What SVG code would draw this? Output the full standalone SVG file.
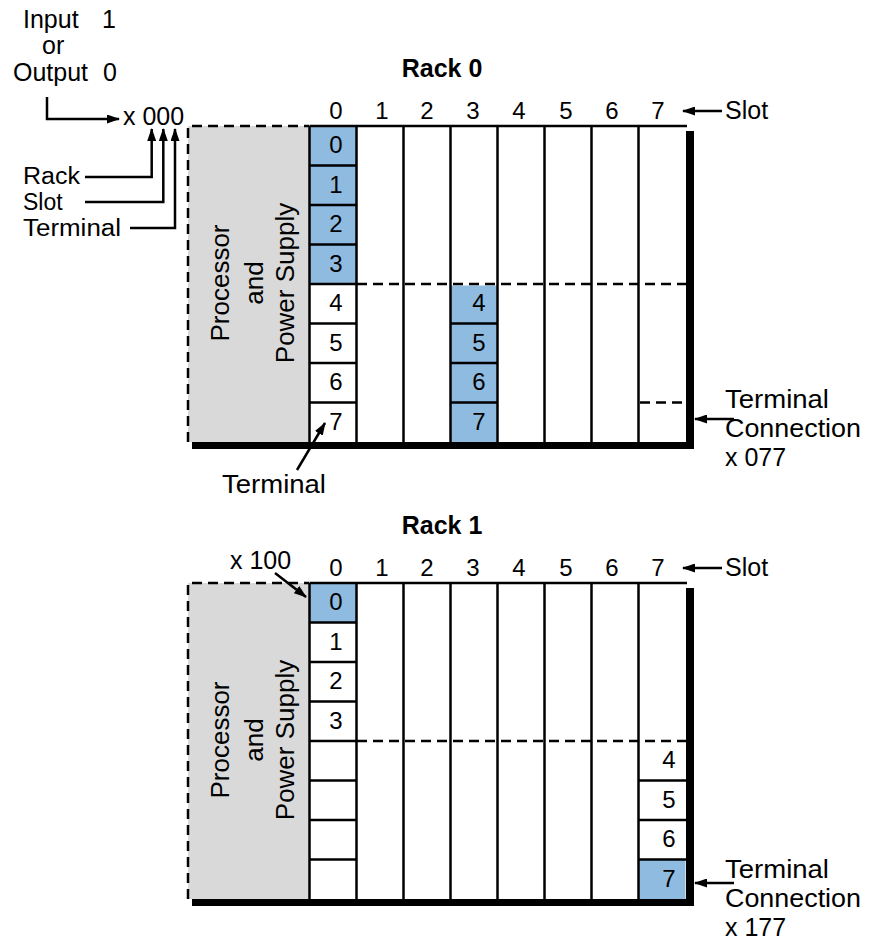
<svg xmlns="http://www.w3.org/2000/svg" width="869" height="943" viewBox="0 0 869 943">
<defs>
<style>
text{font-family:"Liberation Sans",Arial,sans-serif;fill:#000}
.lb{font-size:25px}
.ls{font-size:23px}
.lg{font-size:25px}
.dg{font-size:24px;text-anchor:middle}
.ttl{font-size:25px;font-weight:bold;text-anchor:middle}
.rot{font-size:26px;text-anchor:middle}
.ln{stroke:#000;stroke-width:2.5;fill:none}
.dash{stroke:#000;stroke-width:2.5;fill:none;stroke-dasharray:10 6}
.ar{stroke:#000;stroke-width:2.5;fill:none;marker-end:url(#ah)}
.blue{fill:#8FBBE1}
.gray{fill:#D9D9D9}
.sh{fill:#000}
</style>
<marker id="ah" markerUnits="userSpaceOnUse" markerWidth="13" markerHeight="9" refX="12" refY="4.5" orient="auto">
<path d="M0,0 L13,4.5 L0,9 z" fill="#000"/>
</marker>
</defs>

<g id="address-legend">
<text class="lb" x="23" y="28">Input</text>
<text class="lb" x="102" y="28">1</text>
<text class="lb" x="42" y="54">or</text>
<text class="lb" x="13" y="81">Output</text>
<text class="lb" x="103" y="81">0</text>
<text class="lb" x="123" y="125">x 000</text>
<text class="ls" x="23" y="184" textLength="57" lengthAdjust="spacingAndGlyphs">Rack</text>
<text class="ls" x="23" y="210">Slot</text>
<text class="ls" x="23" y="236" textLength="98" lengthAdjust="spacingAndGlyphs">Terminal</text>
</g>

<g id="rack0">
<text class="ttl" x="442" y="77">Rack 0</text>
<rect class="gray" x="188" y="126" width="121.5" height="316"/>
<path class="dash" d="M188,442 V126 H309"/>
<rect class="blue" x="309.5" y="126" width="47" height="158"/>
<rect class="blue" x="450.5" y="285.5" width="47" height="156.5"/>
<path class="ln" d="M309.5,126 H687 M309.5,126 V442 M356.5,126 V442 M403.5,126 V442 M450.5,126 V442 M497.5,126 V442 M544.5,126 V442 M591.5,126 V442 M638.5,126 V442"/>
<path class="ln" d="M309.5,165.5 H356.5 M309.5,205 H356.5 M309.5,244.5 H356.5 M309.5,284 H356.5 M309.5,323.5 H356.5 M309.5,363 H356.5 M309.5,402.5 H356.5 M450.5,323.5 H497.5 M450.5,363 H497.5 M450.5,402.5 H497.5"/>
<path class="dash" d="M357,284 H686 M640,402.5 H686"/>
<rect class="sh" x="686" y="131" width="8" height="318"/>
<rect class="sh" x="192" y="442" width="502" height="7"/>
<text class="rot" transform="translate(229,283) rotate(-90)">Processor</text>
<text class="rot" transform="translate(263,283) rotate(-90)">and</text>
<text class="rot" transform="translate(294,283) rotate(-90)">Power Supply</text>
<text class="dg" x="336" y="119">0</text>
<text class="dg" x="382" y="119">1</text>
<text class="dg" x="427" y="119">2</text>
<text class="dg" x="473" y="119">3</text>
<text class="dg" x="519" y="119">4</text>
<text class="dg" x="566" y="119">5</text>
<text class="dg" x="612" y="119">6</text>
<text class="dg" x="658" y="119">7</text>
<text class="lb" x="725" y="119">Slot</text>
<text class="dg" x="336" y="153">0</text>
<text class="dg" x="336" y="192.5">1</text>
<text class="dg" x="336" y="232">2</text>
<text class="dg" x="336" y="271.5">3</text>
<text class="dg" x="336" y="311">4</text>
<text class="dg" x="336" y="350.5">5</text>
<text class="dg" x="336" y="390">6</text>
<text class="dg" x="336" y="429.5">7</text>
<text class="dg" x="479" y="311">4</text>
<text class="dg" x="479" y="350.5">5</text>
<text class="dg" x="479" y="390">6</text>
<text class="dg" x="479" y="429.5">7</text>
<text class="lg" x="222" y="493" textLength="104" lengthAdjust="spacingAndGlyphs">Terminal</text>
<text class="lg" x="725" y="408" textLength="104" lengthAdjust="spacingAndGlyphs">Terminal</text>
<text class="lg" x="725" y="437" textLength="136" lengthAdjust="spacingAndGlyphs">Connection</text>
<text class="lg" x="725" y="466">x 077</text>
</g>

<g id="rack1">
<text class="ttl" x="442" y="534">Rack 1</text>
<g transform="translate(0,457)">
<rect class="gray" x="188" y="126" width="121.5" height="316"/>
<path class="dash" d="M188,442 V126 H309"/>
<rect class="blue" x="309.5" y="126" width="47" height="39.5"/>
<rect class="blue" x="638.5" y="402.5" width="47" height="39.5"/>
<path class="ln" d="M309.5,126 H687 M309.5,126 V442 M356.5,126 V442 M403.5,126 V442 M450.5,126 V442 M497.5,126 V442 M544.5,126 V442 M591.5,126 V442 M638.5,126 V442"/>
<path class="ln" d="M309.5,165.5 H356.5 M309.5,205 H356.5 M309.5,244.5 H356.5 M309.5,284 H356.5 M309.5,323.5 H356.5 M309.5,363 H356.5 M309.5,402.5 H356.5 M638.5,323.5 H686 M638.5,363 H686 M638.5,402.5 H686"/>
<path class="dash" d="M357,284 H686"/>
<rect class="sh" x="686" y="131" width="8" height="318"/>
<rect class="sh" x="192" y="442" width="502" height="7"/>
<text class="rot" transform="translate(229,283) rotate(-90)">Processor</text>
<text class="rot" transform="translate(263,283) rotate(-90)">and</text>
<text class="rot" transform="translate(294,283) rotate(-90)">Power Supply</text>
<text class="dg" x="336" y="119">0</text>
<text class="dg" x="382" y="119">1</text>
<text class="dg" x="427" y="119">2</text>
<text class="dg" x="473" y="119">3</text>
<text class="dg" x="519" y="119">4</text>
<text class="dg" x="566" y="119">5</text>
<text class="dg" x="612" y="119">6</text>
<text class="dg" x="658" y="119">7</text>
<text class="lb" x="725" y="119">Slot</text>
<text class="dg" x="336" y="153">0</text>
<text class="dg" x="336" y="192.5">1</text>
<text class="dg" x="336" y="232">2</text>
<text class="dg" x="336" y="271.5">3</text>
<text class="dg" x="669" y="311">4</text>
<text class="dg" x="669" y="350.5">5</text>
<text class="dg" x="669" y="390">6</text>
<text class="dg" x="669" y="429.5">7</text>
</g>
<text class="lb" x="230" y="569">x 100</text>
<text class="lg" x="725" y="878" textLength="104" lengthAdjust="spacingAndGlyphs">Terminal</text>
<text class="lg" x="725" y="907" textLength="136" lengthAdjust="spacingAndGlyphs">Connection</text>
<text class="lg" x="725" y="936">x 177</text>
</g>

<g id="connectors">
<path class="ar" d="M47,97 V119 H119"/>
<path class="ar" d="M85,177 H151.7 V129"/>
<path class="ar" d="M85,202 H163.3 V129"/>
<path class="ar" d="M130,228 H175 V129"/>
<path class="ar" d="M722,111 H683"/>
<path class="ar" d="M722,568 H683"/>
<path class="ar" d="M297,470 L325,423"/>
<path class="ar" d="M275,573 L306,597"/>
<path class="ar" d="M734,419 H695"/>
<path class="ar" d="M734,883 H695"/>
</g>
</svg>
